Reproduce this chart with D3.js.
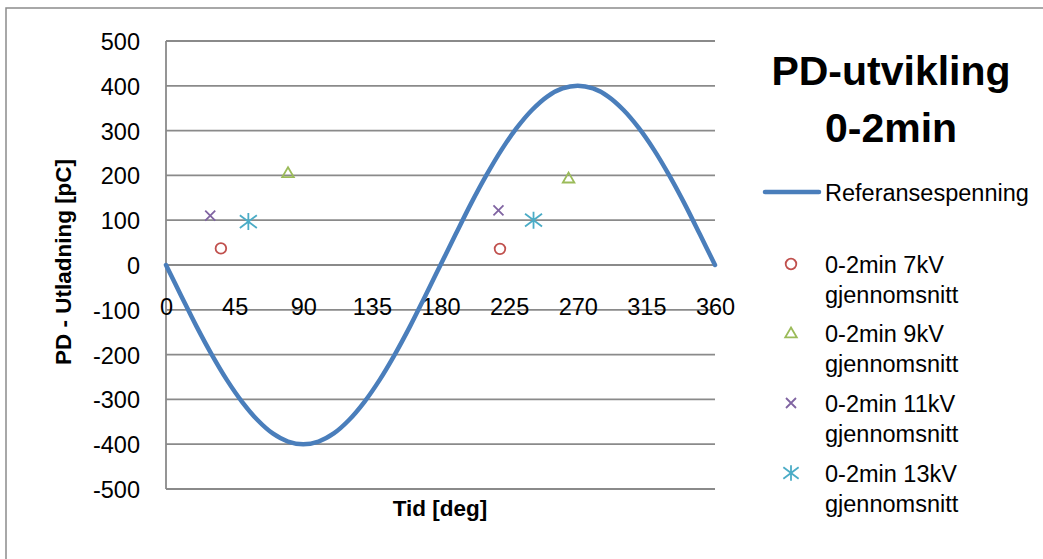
<!DOCTYPE html>
<html><head><meta charset="utf-8">
<script src="https://cdn.jsdelivr.net/npm/d3@7"></script>
<style>
body{margin:0;background:#fff;}
svg{display:block;font-family:"Liberation Sans",Arial,sans-serif;}
</style></head>
<body><svg id="c" width="1043" height="559"></svg>
<script>
// Reference voltage (sine)
const refDeg = [0,10,20,30,40,50,60,70,80,90,100,110,120,130,140,150,160,170,180,190,200,210,220,230,240,250,260,270,280,290,300,310,320,330,340,350,360];
const refVal = [0,-69,-137,-200,-257,-306,-346,-376,-394,-400,-394,-376,-346,-306,-257,-200,-137,-69,0,69,137,200,257,306,346,376,394,400,394,376,346,306,257,200,137,69,0];
// Scatter series
const s7kV_x = [36, 219];   const s7kV_y = [37, 36];
const s9kV_x = [80, 264];   const s9kV_y = [206, 194];
const s11kV_x = [29, 218];  const s11kV_y = [110, 122];
const s13kV_x = [54, 241];  const s13kV_y = [97, 100];
const xTicks = [0,45,90,135,180,225,270,315,360];
const yTicks = [-500,-400,-300,-200,-100,0,100,200,300,400,500];
const seriesNames = ["0-2min 7kV gjennomsnitt","0-2min 9kV gjennomsnitt","0-2min 11kV gjennomsnitt","0-2min 13kV gjennomsnitt"];
const lineName = "Referansespenning";
const titleLines = ["PD-utvikling","0-2min"];
const xTitle = "Tid [deg]";
const yTitle = "PD - Utladning [pC]";

const svg = d3.select("#c");
const x = d3.scaleLinear().domain([0,360]).range([166,715]);
const y = d3.scaleLinear().domain([-500,500]).range([489,41]);
const grid = "#8a8a8a";
const FS = 23.5;
const fmt = d => String(d);

// outer border (top + left visible)
svg.append("path").attr("d","M6,559 L6,8 L1043,8").attr("fill","none").attr("stroke","#8c8c8c").attr("stroke-width",1.5);

// gridlines
svg.append("g").selectAll("line").data(yTicks).join("line")
  .attr("x1",x(0)).attr("x2",x(360)).attr("y1",d=>y(d)).attr("y2",d=>y(d))
  .attr("stroke",grid).attr("stroke-width",1.8);
// y axis line
svg.append("line").attr("x1",x(0)).attr("x2",x(0)).attr("y1",y(500)).attr("y2",y(-500))
  .attr("stroke",grid).attr("stroke-width",1.8);

// y axis labels
const ya = svg.append("g").attr("transform",`translate(${x(0)},0)`)
  .call(d3.axisLeft(y).tickValues(yTicks).tickSize(0).tickPadding(26).tickFormat(fmt));
ya.select(".domain").remove();
ya.selectAll("text").attr("font-size",FS).attr("fill","#000").attr("font-family","Liberation Sans, Arial, sans-serif").attr("dy","0.36em");

// x axis labels
const xa = svg.append("g").attr("transform",`translate(0,${y(0)})`)
  .call(d3.axisBottom(x).tickValues(xTicks).tickSize(0).tickPadding(33).tickFormat(fmt));
xa.select(".domain").remove();
xa.selectAll("text").attr("font-size",FS).attr("fill","#000").attr("font-family","Liberation Sans, Arial, sans-serif");

// reference line
const refData = refDeg.map((d,i)=>[d,refVal[i]]);
svg.append("path").datum(refData)
  .attr("d",d3.line().x(d=>x(d[0])).y(d=>y(d[1])).curve(d3.curveCatmullRom))
  .attr("fill","none").attr("stroke","#4a7ebb").attr("stroke-width",4.5).attr("stroke-linecap","round");

// marker drawers
const colors = ["#c0504d","#9bbb59","#8064a2","#4bacc6"];
function drawMarker(g, type, cx, cy, s){
  if(type===0){
    g.append("circle").attr("cx",cx).attr("cy",cy).attr("r",5.3*s).attr("fill","none").attr("stroke",colors[0]).attr("stroke-width",1.8);
  } else if(type===1){
    const h=5.5*s;
    g.append("path").attr("d",`M${cx},${cy-h} L${cx+h*1.05},${cy+h*0.8} L${cx-h*1.05},${cy+h*0.8} Z`).attr("fill","none").attr("stroke",colors[1]).attr("stroke-width",1.8);
  } else if(type===2){
    const h=5*s;
    g.append("path").attr("d",`M${cx-h},${cy-h} L${cx+h},${cy+h} M${cx-h},${cy+h} L${cx+h},${cy-h}`).attr("stroke",colors[2]).attr("stroke-width",1.8);
  } else {
    const h=8.5*s;
    g.append("path").attr("d",`M${cx-h},${cy-h*0.75} L${cx+h},${cy+h*0.75} M${cx-h},${cy+h*0.75} L${cx+h},${cy-h*0.75} M${cx},${cy-h} L${cx},${cy+h}`).attr("stroke",colors[3]).attr("stroke-width",1.8);
  }
}
const seriesX = [s7kV_x,s9kV_x,s11kV_x,s13kV_x];
const seriesY = [s7kV_y,s9kV_y,s11kV_y,s13kV_y];
const mg = svg.append("g");
seriesX.forEach((xs,si)=>{
  xs.forEach((xv,i)=>drawMarker(mg, si, x(xv), y(seriesY[si][i]), 1));
});

// axis titles
svg.append("text").attr("x",440).attr("y",516).attr("text-anchor","middle")
  .attr("font-size",22.5).attr("font-weight","bold").text(xTitle);
svg.append("text").attr("transform","translate(71,262) rotate(-90)").attr("text-anchor","middle")
  .attr("font-size",22.5).attr("font-weight","bold").text(yTitle);

// chart title
svg.append("g").selectAll("text").data(titleLines).join("text")
  .attr("x",891).attr("y",(d,i)=>85+i*57).attr("text-anchor","middle")
  .attr("font-size",41).attr("font-weight","bold").text(d=>d);

// legend
const lg = svg.append("g");
lg.append("line").attr("x1",765).attr("x2",819).attr("y1",192).attr("y2",192)
  .attr("stroke","#4a7ebb").attr("stroke-width",4.5).attr("stroke-linecap","round");
lg.append("text").attr("x",825).attr("y",200.5).attr("font-size",FS).text(lineName);
const legY = [264,333,403,473];
seriesNames.forEach((nm,i)=>{
  drawMarker(lg, i, 791, legY[i], i===3?0.9:1);
  const parts = [nm.split(" ").slice(0,2).join(" "), nm.split(" ").slice(2).join(" ")];
  const t = lg.append("text").attr("font-size",FS);
  parts.forEach((p,j)=>t.append("tspan").attr("x",825).attr("y",legY[i]+8.5+j*30.5).text(p));
});
</script></body></html>
